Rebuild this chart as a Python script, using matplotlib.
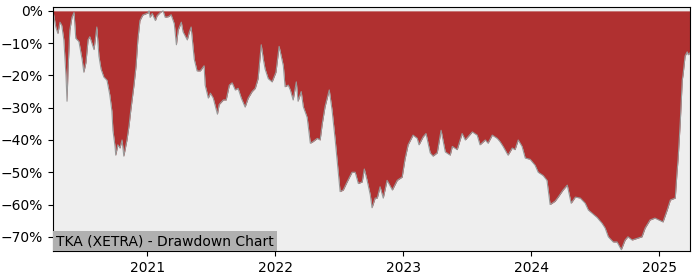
import numpy as np
import pandas as pd
import matplotlib
matplotlib.use("Agg")
import matplotlib.pyplot as plt
import matplotlib.dates as mdates
from matplotlib.ticker import FuncFormatter

# drawdown (%)
dates = [
    "2020-04-07", "2020-04-15", "2020-04-21", "2020-04-27", "2020-05-02", "2020-05-08",
    "2020-05-14", "2020-05-17", "2020-05-20", "2020-05-25", "2020-05-31", "2020-06-06",
    "2020-06-11", "2020-06-20", "2020-06-29", "2020-07-04", "2020-07-10", "2020-07-16",
    "2020-07-21", "2020-07-27", "2020-08-02", "2020-08-10", "2020-08-16", "2020-08-22",
    "2020-08-30", "2020-09-08", "2020-09-16", "2020-09-22", "2020-09-25", "2020-10-01",
    "2020-10-03", "2020-10-09", "2020-10-15", "2020-10-21", "2020-10-26", "2020-11-04",
    "2020-11-10", "2020-11-15", "2020-11-24", "2020-11-30", "2020-12-05", "2020-12-11",
    "2020-12-19",
    "2021-01-04", "2021-01-06", "2021-01-09", "2021-01-15", "2021-01-24", "2021-01-29",
    "2021-02-07", "2021-02-15", "2021-02-21", "2021-03-02", "2021-03-10", "2021-03-19",
    "2021-03-25", "2021-03-30", "2021-04-08", "2021-04-13", "2021-04-25", "2021-05-01",
    "2021-05-06", "2021-05-15", "2021-05-23", "2021-06-01", "2021-06-12", "2021-06-15",
    "2021-06-24", "2021-06-30", "2021-07-08", "2021-07-20", "2021-07-25", "2021-08-06",
    "2021-08-14", "2021-08-23", "2021-08-31", "2021-09-09", "2021-09-17", "2021-09-26",
    "2021-10-07", "2021-10-16", "2021-10-27", "2021-11-05", "2021-11-13", "2021-11-22",
    "2021-11-28", "2021-12-03", "2021-12-12", "2021-12-23",
    "2022-01-03", "2022-01-12", "2022-01-18", "2022-01-24", "2022-01-29", "2022-02-07",
    "2022-02-13", "2022-02-21", "2022-03-02", "2022-03-07", "2022-03-16", "2022-03-22",
    "2022-04-02", "2022-04-11", "2022-04-19", "2022-05-01", "2022-05-09", "2022-05-15",
    "2022-05-23", "2022-06-04", "2022-06-12", "2022-06-21", "2022-06-27", "2022-07-05",
    "2022-07-14", "2022-07-25", "2022-08-08", "2022-08-17", "2022-08-26", "2022-09-06",
    "2022-09-12", "2022-09-20", "2022-09-29", "2022-10-04", "2022-10-13", "2022-10-19",
    "2022-10-27", "2022-11-05", "2022-11-16", "2022-12-01", "2022-12-15", "2022-12-29",
    "2023-01-06", "2023-01-15", "2023-01-29", "2023-02-10", "2023-02-15", "2023-02-27",
    "2023-03-07", "2023-03-19", "2023-03-27", "2023-04-08", "2023-04-19", "2023-05-01",
    "2023-05-15", "2023-05-21", "2023-06-04", "2023-06-18", "2023-06-27", "2023-07-17",
    "2023-07-31", "2023-08-08", "2023-08-23", "2023-08-31", "2023-09-12", "2023-09-26",
    "2023-10-04", "2023-10-13", "2023-10-27", "2023-11-08", "2023-11-16", "2023-11-25",
    "2023-12-06", "2023-12-15", "2023-12-29",
    "2024-01-12", "2024-01-21", "2024-02-04", "2024-02-15", "2024-02-24", "2024-03-09",
    "2024-03-18", "2024-04-01", "2024-04-13", "2024-04-24", "2024-05-06", "2024-05-20",
    "2024-06-03", "2024-06-12", "2024-06-26", "2024-07-07", "2024-07-21", "2024-07-30",
    "2024-08-08", "2024-08-22", "2024-09-02", "2024-09-14", "2024-09-25", "2024-10-03",
    "2024-10-15", "2024-10-29", "2024-11-12", "2024-11-21", "2024-12-05", "2024-12-19",
    "2025-01-03", "2025-01-11", "2025-01-23", "2025-02-01", "2025-02-15", "2025-02-20",
    "2025-02-23", "2025-03-01", "2025-03-07", "2025-03-09", "2025-03-15", "2025-03-21",
    "2025-03-24", "2025-03-29",
]
drawdown = [
    0, -5, -7, -3.5, -4.5, -9,
    -20, -28, -18, -6, -2, -0.5,
    -8.5, -9.5, -15, -19, -16, -9,
    -8, -10, -12, -5, -14, -18,
    -20.5, -21.5, -26, -31, -37, -42,
    -44.7, -41.5, -42.5, -40, -45, -40,
    -35.5, -30.7, -23, -17, -9, -3,
    -1.3,
    -0.6, 0, -2, -0.8, -3, -1.5,
    -0.5, 0, -2, -1.8, -1.2, -4,
    -10.5, -6, -3.5, -6.5, -9, -6.5,
    -5, -15, -18.6, -18.6, -17, -23,
    -27, -25.5, -27, -32, -29, -27.6,
    -27.6, -23, -22.3, -24.5, -24, -27,
    -29.8, -27, -25, -24, -21, -10.5,
    -15, -18, -21, -22,
    -19, -11, -14, -17, -23.5, -23,
    -24.5, -27.6, -22, -28, -25, -29.7,
    -33, -41, -40.5, -39.5, -40, -35,
    -29.7, -24.5, -30.7, -40, -47, -56,
    -55.5, -53, -50, -50, -53.5, -53,
    -49, -52.5, -57, -61, -58, -58,
    -54.5, -58, -52.5, -55.5, -52.5, -51.5,
    -46, -41.5, -38.5, -39.5, -41.5, -39,
    -38, -44, -45, -44, -37, -43.7,
    -44.7, -42, -43, -38, -40, -37.5,
    -38.5, -41.5, -40, -41, -38.5, -39.5,
    -40.5, -42, -44.7, -42.5, -43, -40,
    -42, -45.6, -46,
    -47.8, -50, -51, -52.5, -60, -59,
    -57.7, -55.5, -54, -59.6, -57.7, -58,
    -59.6, -61.7, -63, -64, -65.8, -67.3,
    -70, -71.6, -71.6, -74, -71, -70,
    -71, -70.5, -70, -67.3, -64.8, -64.2,
    -65, -65.4, -61.7, -58.6, -58, -50,
    -46, -35, -21.4, -20, -14, -12.7,
    -13.6, -13,
]
title = "TKA (XETRA) - Drawdown Chart"

x = pd.to_datetime(dates)
y = np.array(drawdown)

fig = plt.figure(figsize=(7, 2.8), dpi=100)
ax = fig.add_axes([0.0757, 0.1036, 0.91, 0.8714])
ax.set_facecolor("#eeeeee")

ax.fill_between(x, y, 0, color="#b03030", linewidth=0)
ax.plot(x, y, color="#999999", linewidth=0.8)

ax.set_xlim(x[0], x[-1])
ax.set_ylim(-74.4, 1.2)
ax.set_yticks([0, -10, -20, -30, -40, -50, -60, -70])
ax.yaxis.set_major_formatter(FuncFormatter(lambda v, p: f"{v:.0f}%".replace("-", "\u2212")))
ax.xaxis.set_major_locator(mdates.YearLocator())
ax.xaxis.set_major_formatter(mdates.DateFormatter("%Y"))
ax.tick_params(labelsize=10)

ax.text(0.005, 0.012, title, transform=ax.transAxes, fontsize=10,
        ha="left", va="bottom",
        bbox=dict(facecolor="#b0b0b0", edgecolor="none", pad=2))

fig.savefig("out.png", dpi=100)
